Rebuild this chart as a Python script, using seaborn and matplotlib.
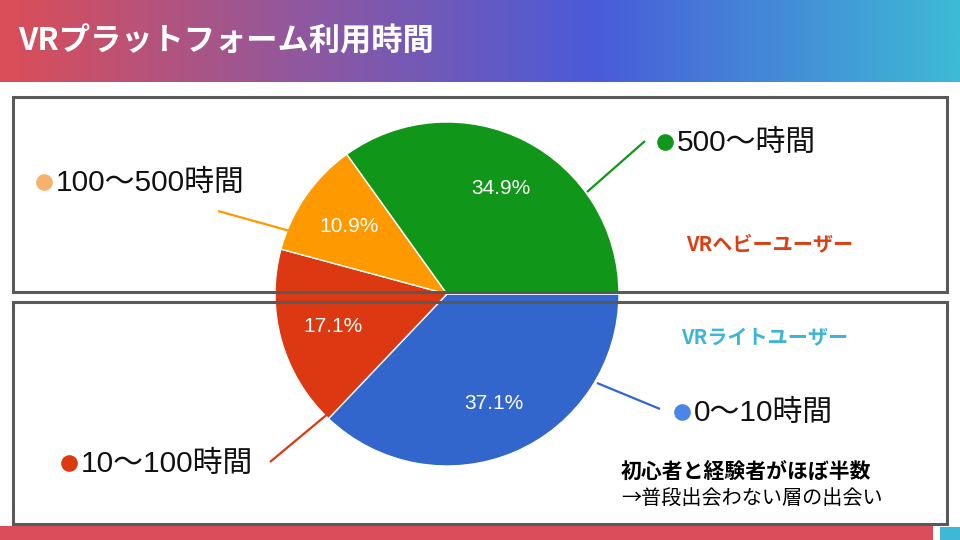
import numpy as np
import matplotlib
matplotlib.use("Agg")
import matplotlib.pyplot as plt
from matplotlib.colors import LinearSegmentedColormap
from matplotlib.patches import Rectangle
import seaborn as sns

# data
categories = ["0〜10時間", "10〜100時間", "100〜500時間", "500〜時間"]
shares = [37.1, 17.1, 10.9, 34.9]
slice_colors = ["#3366CC", "#DC3912", "#FF9900", "#109618"]
dot_colors = ["#4A86E8", "#DC3912", "#F6B26B", "#109618"]

title = "VRプラットフォーム利用時間"
heavy_label = "VRヘビーユーザー"
light_label = "VRライトユーザー"
note_lines = ["初心者と経験者がほぼ半数", "→普段出会わない層の出会い"]

sns.set_theme(style="white")
plt.rcParams['font.family'] = ['Noto Sans CJK JP', 'DejaVu Sans']
latin_first = ["Liberation Sans", "Noto Sans CJK JP", "DejaVu Sans"]

W, H = 960, 540
fig = plt.figure(figsize=(9.6, 5.4), dpi=100)
fig.patch.set_facecolor("white")

# pie, centre (447, 294) px, radius 172 px
cx, cy, R = 447, 294, 172
pax = fig.add_axes([(cx - R) / W, (H - cy - R) / H, 2 * R / W, 2 * R / H])
pax.set_zorder(1)
wedges, texts, autotexts = pax.pie(
    shares, colors=slice_colors, startangle=0, counterclock=False,
    autopct="%1.1f%%", pctdistance=0.69,
    wedgeprops=dict(edgecolor="white", linewidth=1),
    textprops=dict(color="white", fontsize=15, family=["Liberation Sans", "DejaVu Sans"]))
pax.set_xlim(-1, 1)
pax.set_ylim(-1, 1)
pax.axis("off")

# overlay in pixel coordinates
ax = fig.add_axes([0, 0, 1, 1])
ax.set_zorder(2)
ax.patch.set_alpha(0)
ax.axis("off")

# title bar gradient
cmap = LinearSegmentedColormap.from_list(
    "bar", [(0, "#DC4E57"), (0.32, "#8E58A0"), (0.62, "#4A5BD9"), (1, "#3DBAD5")])
grad = np.linspace(0, 1, 512).reshape(1, -1)
ax.imshow(grad, cmap=cmap, extent=[0, W, 82, 0], aspect="auto", zorder=0)
ax.text(18, 41, title, color="white", fontsize=22.5, fontweight="bold", va="center", ha="left")
ax.set_xlim(0, W)
ax.set_ylim(H, 0)

# bottom strip
ax.add_patch(Rectangle((0, 526), 933, 14, color="#DB4D5A", lw=0, zorder=1))
ax.add_patch(Rectangle((940, 527), 20, 13, color="#3DB8D6", lw=0, zorder=1))

# frames
for y0, y1 in [(97, 292), (302, 524)]:
    ax.add_patch(Rectangle((13, y0), 934, y1 - y0, fill=False, edgecolor="#595959", lw=2.2, zorder=3))

# leader lines and labels (order: blue, red, orange, green)
leaders = [((597, 383), (660, 409)), ((330, 412), (270, 462)),
           ((290, 231), (218, 211)), ((587, 192), (645, 141))]
dots = [(682, 412), (69, 463), (44, 182), (665, 142)]
for (p0, p1), c in zip(leaders, slice_colors):
    ax.plot([p0[0], p1[0]], [p0[1], p1[1]], color=c, lw=1.6, solid_capstyle="butt", zorder=2)
for (dx, dy), c, lab in zip(dots, dot_colors, categories):
    ax.plot(dx, dy, "o", color=c, ms=12, mew=0, zorder=2)
    ax.text(dx + 12, dy + 1, lab, fontsize=21.5, color="#111111", va="center", ha="left",
            family=latin_first, zorder=2)

ax.text(770, 244, heavy_label, color="#DD3F14", fontsize=14.5, fontweight="bold", ha="center", va="center")
ax.text(765, 338, light_label, color="#3DB5D9", fontsize=14.5, fontweight="bold", ha="center", va="center")

ax.text(621, 472, note_lines[0], color="black", fontsize=15, fontweight="bold", ha="left", va="center")
ax.text(621, 498, note_lines[1], color="black", fontsize=14.5, ha="left", va="center")

fig.savefig("out.png", dpi=100)
